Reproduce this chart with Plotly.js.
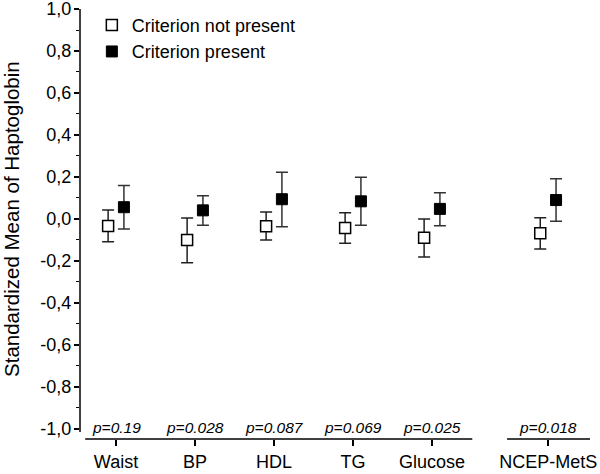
<!DOCTYPE html>
<html>
<head>
<meta charset="utf-8">
<script src="https://cdn.plot.ly/plotly-3.0.1.min.js"></script>
<style>
  html, body { margin: 0; padding: 0; background: #fff; }
  #chart { width: 600px; height: 474px; }
</style>
</head>
<body>
<div id="chart"></div>
<script>
var categories = ['Waist', 'BP', 'HDL', 'TG', 'Glucose', 'NCEP-MetS'];
var catPos = [0, 1, 2, 3, 4, 5.47];
var pValues = ['p=0.19', 'p=0.028', 'p=0.087', 'p=0.069', 'p=0.025', 'p=0.018'];

// criterion not present
var absentMean = [-0.033, -0.100, -0.035, -0.043, -0.090, -0.068];
var absentUpper = [0.043, 0.005, 0.033, 0.030, 0.000, 0.006];
var absentLower = [-0.108, -0.208, -0.100, -0.116, -0.181, -0.143];

// criterion present
var presentMean = [0.056, 0.041, 0.094, 0.084, 0.048, 0.090];
var presentUpper = [0.159, 0.111, 0.222, 0.199, 0.125, 0.192];
var presentLower = [-0.048, -0.030, -0.037, -0.030, -0.032, -0.011];

var yTicks = [1, 0.8, 0.6, 0.4, 0.2, 0, -0.2, -0.4, -0.6, -0.8, -1];
var yTickText = ['1,0', '0,8', '0,6', '0,4', '0,2', '0,0', '-0,2', '-0,4', '-0,6', '-0,8', '-1,0'];

var offset = 0.1;
var font = 'Liberation Sans, Arial, sans-serif';

function shift(d) {
  return catPos.map(function (p) { return p + d; });
}
function diff(a, b) {
  return a.map(function (v, i) { return v - b[i]; });
}

var absent = {
  x: shift(-offset),
  y: absentMean,
  type: 'scatter',
  mode: 'markers',
  name: 'Criterion not present',
  marker: {symbol: 'square', size: 11, color: '#ffffff', line: {color: '#000', width: 1.5}},
  error_y: {
    type: 'data', symmetric: false,
    array: diff(absentUpper, absentMean),
    arrayminus: diff(absentMean, absentLower),
    color: '#222', thickness: 1.5, width: 6
  }
};

var present = {
  x: shift(offset),
  y: presentMean,
  type: 'scatter',
  mode: 'markers',
  name: 'Criterion present',
  marker: {symbol: 'square', size: 11, color: '#000', line: {color: '#000', width: 1}},
  error_y: {
    type: 'data', symmetric: false,
    array: diff(presentUpper, presentMean),
    arrayminus: diff(presentMean, presentLower),
    color: '#333', thickness: 1.5, width: 6
  }
};

var annotations = pValues.map(function (p, i) {
  return {
    x: catPos[i], y: -0.993, xref: 'x', yref: 'y',
    text: '<i>' + p + '</i>', showarrow: false,
    font: {family: font, size: 15.5, color: '#000'}
  };
});
// y axis title, placed by hand so it sits where the reference has it
annotations.push({
  x: -68 / 515, y: 0, xref: 'paper', yref: 'y',
  text: 'Standardized Mean of Haptoglobin', textangle: -90, showarrow: false,
  xanchor: 'center', yanchor: 'middle', borderpad: 0,
  font: {family: font, size: 20.5, color: '#000'}
});

var layout = {
  width: 600, height: 474,
  margin: {l: 80, r: 5, t: 9, b: 35},
  paper_bgcolor: '#fff', plot_bgcolor: '#fff',
  font: {family: font, size: 18, color: '#000'},
  showlegend: true,
  legend: {
    x: 0.023, y: 1.005, xanchor: 'left', yanchor: 'top',
    font: {family: font, size: 18, color: '#000'},
    bgcolor: 'rgba(0,0,0,0)', tracegroupgap: 0
  },
  xaxis: {
    range: [-0.456, 6.063],
    showgrid: false, zeroline: false, showline: false,
    tickvals: catPos, ticktext: categories,
    ticks: 'outside', ticklen: 6, tickwidth: 1.5, tickcolor: '#000',
    ticklabelstandoff: 0,
    tickfont: {family: font, size: 18, color: '#000'}
  },
  yaxis: {
    range: [-1.048, 1.0],
    showgrid: false, zeroline: false, showline: false,
    tickvals: yTicks, ticktext: yTickText,
    ticks: 'outside', ticklen: 5, tickwidth: 1.5, tickcolor: '#000',
    ticklabelstandoff: -1, ticklabeloverflow: 'allow',
    minor: {dtick: 0.1, ticks: 'outside', ticklen: 3, tickwidth: 1, tickcolor: '#000'},
    tickfont: {family: font, size: 18, color: '#000'}
  },
  shapes: [
    {type: 'line', xref: 'paper', yref: 'y', x0: 0, x1: 0, y0: -1.015, y1: 1.0, line: {color: '#000', width: 1.5}},
    {type: 'line', xref: 'x', yref: 'paper', x0: -0.39, x1: 4.51, y0: 0, y1: 0, line: {color: '#000', width: 1.5}},
    {type: 'line', xref: 'x', yref: 'paper', x0: 4.95, x1: 6.0, y0: 0, y1: 0, line: {color: '#000', width: 1.5}}
  ],
  annotations: annotations
};

Plotly.newPlot('chart', [absent, present], layout, {displayModeBar: false, staticPlot: true});
</script>
</body>
</html>
